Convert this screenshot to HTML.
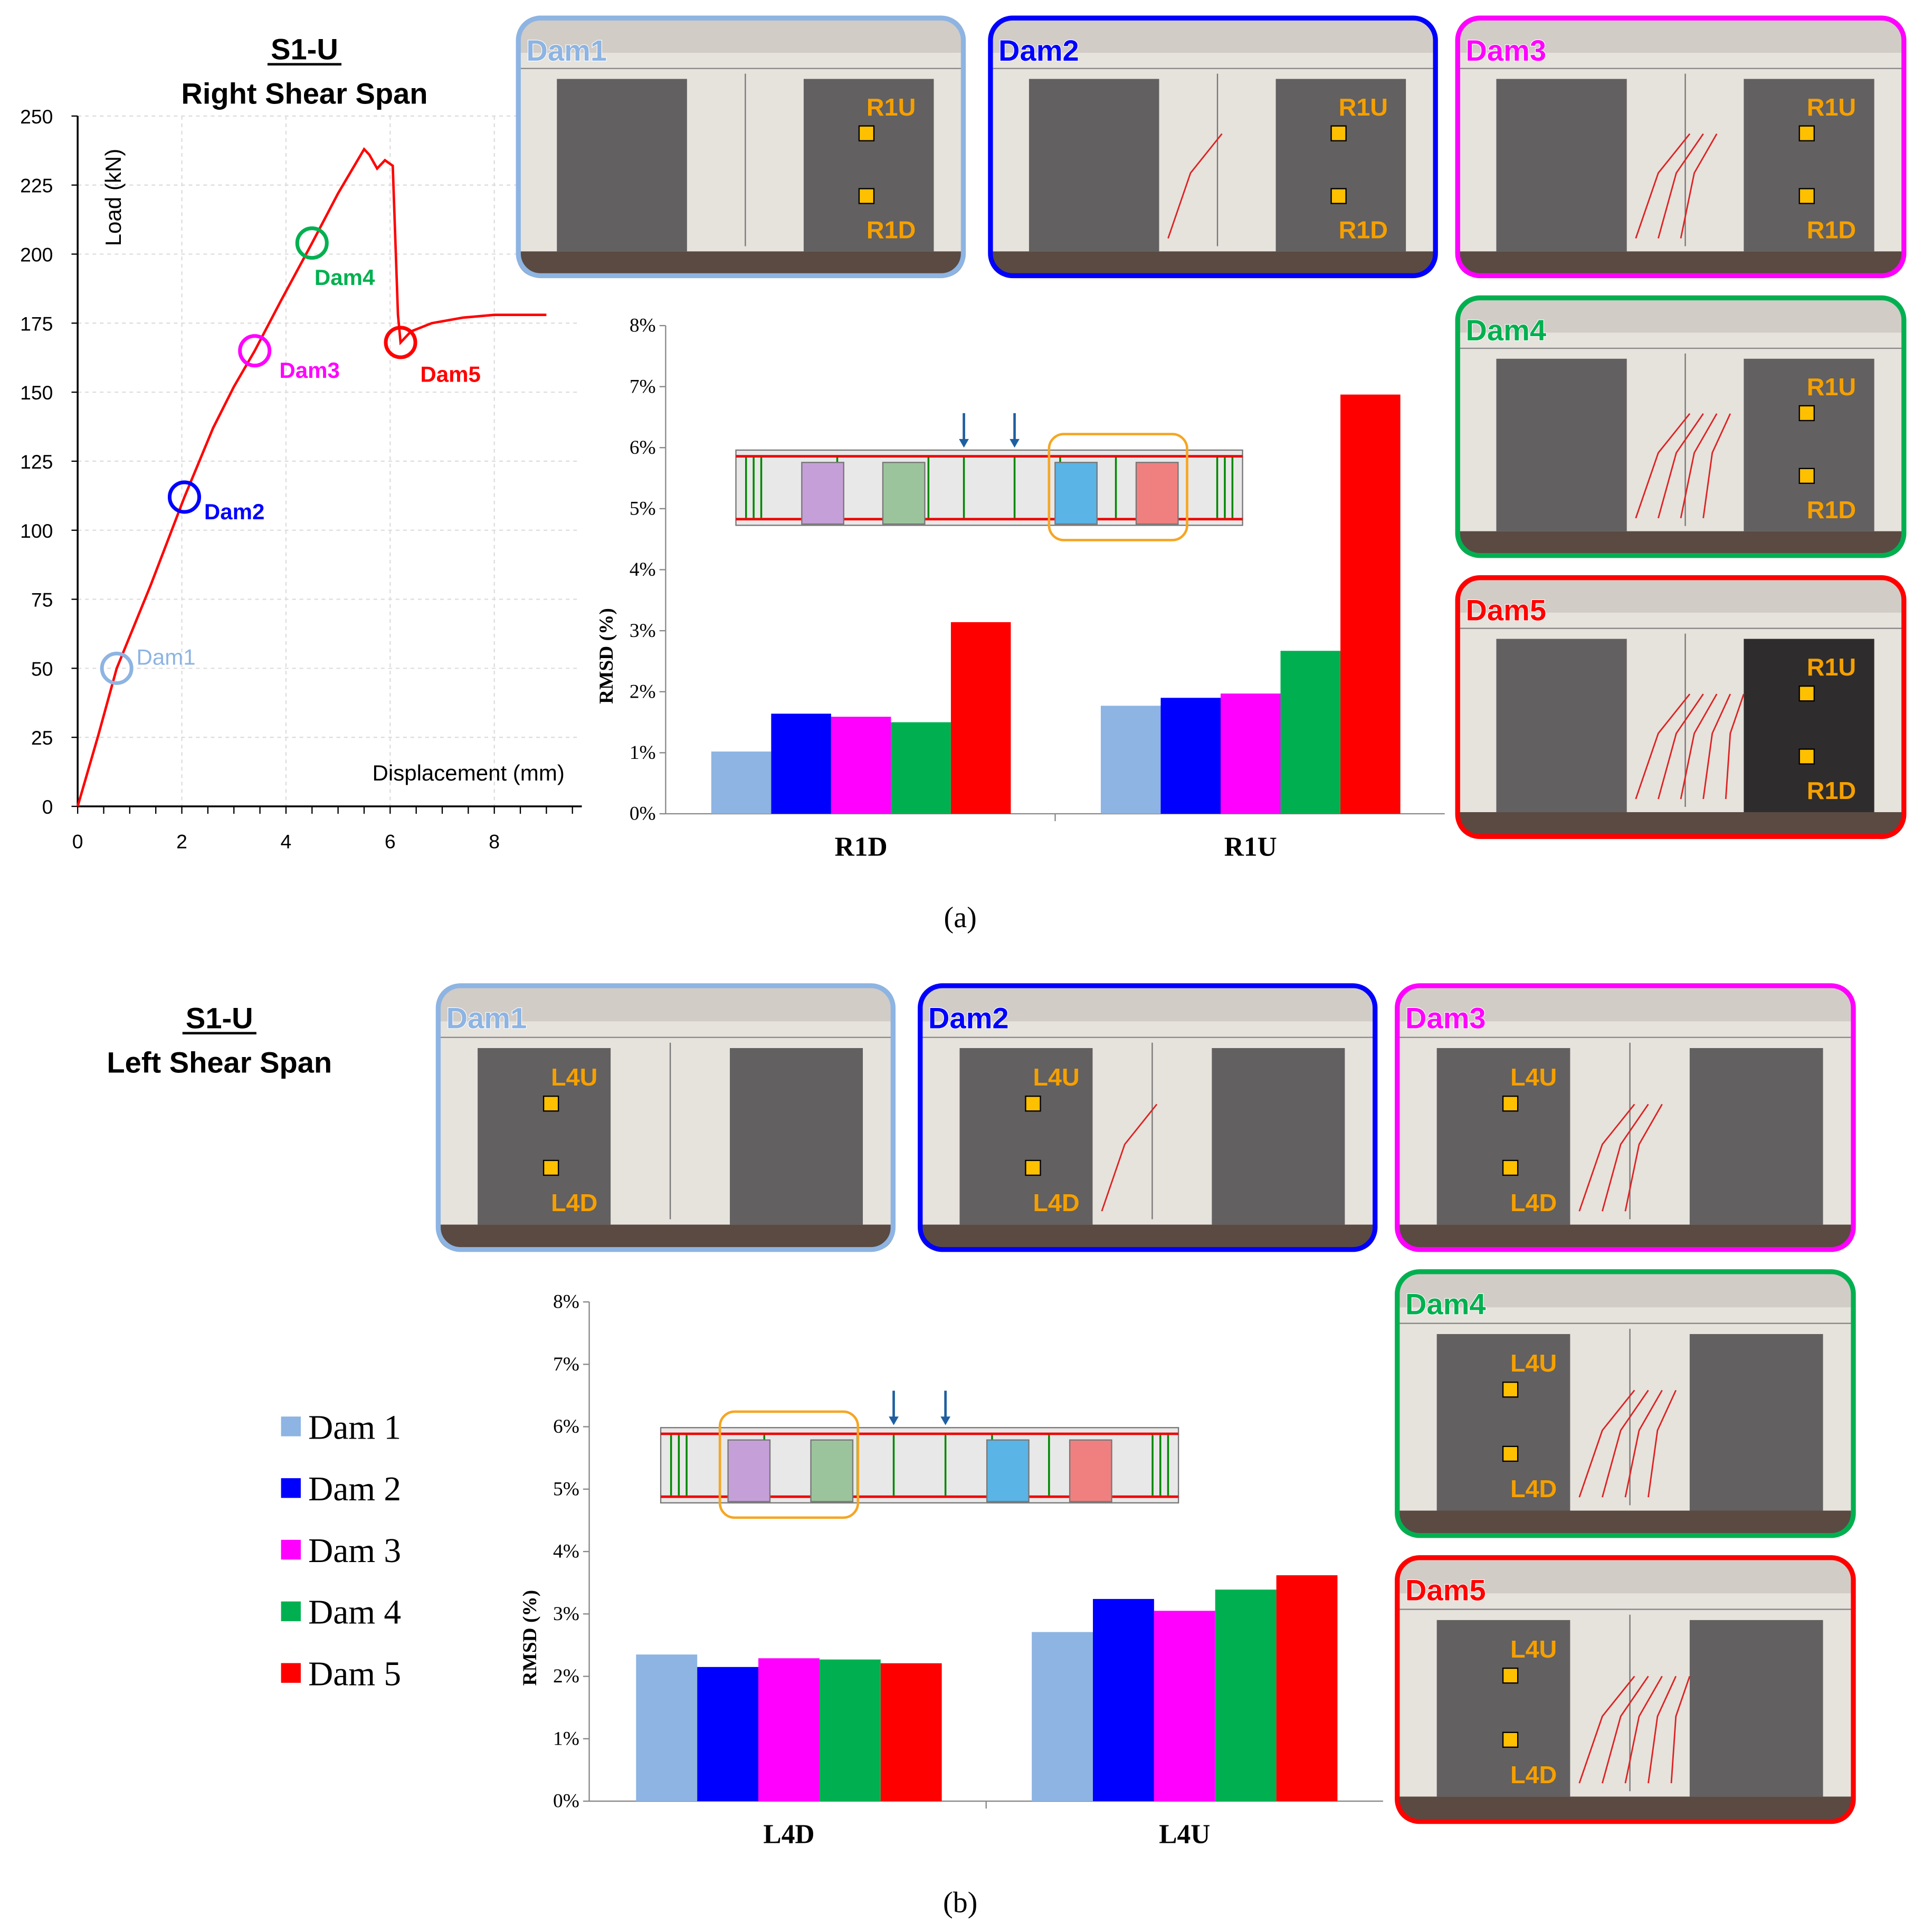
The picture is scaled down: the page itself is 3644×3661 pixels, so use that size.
<!DOCTYPE html>
<html><head><meta charset="utf-8"><style>html,body{margin:0;padding:0;background:#fff}svg{display:block}text{font-family:"Liberation Sans",sans-serif}.sf{font-family:"Liberation Serif",serif}</style></head>
<body>
<svg id="s" width="3644" height="3661" viewBox="0 0 1560 1567" xmlns="http://www.w3.org/2000/svg"></svg>
<script>
const damNames=["Dam1","Dam2","Dam3","Dam4","Dam5"];
const damColors=["#8db4e2","#0000ff","#ff00ff","#00b050","#ff0000"];
const legendLabels=["Dam 1","Dam 2","Dam 3","Dam 4","Dam 5"];
const curveX=[0,0.4,0.75,1.4,2.05,2.6,3.0,3.4,3.9,4.5,5.0,5.5,5.6,5.75,5.9,6.05,6.1,6.15,6.2,6.4,6.8,7.4,8.0,9.0];
const curveY=[0,26,50,80,112,137,152,165,183,204,222,238,236,231,234,232,205,178,168,172,175,177,178,178];
const markX=[0.75,2.05,3.4,4.5,6.2];
const markY=[50,112,165,204,168];
const xTicks=[0,2,4,6,8];
const yTicks=[0,25,50,75,100,125,150,175,200,225,250];
const pctTicks=[0,1,2,3,4,5,6,7,8];
const catsA=["R1D","R1U"];
const valsA=[[1.02,1.64,1.59,1.50,3.14],[1.77,1.90,1.97,2.67,6.87]];
const catsB=["L4D","L4U"];
const valsB=[[2.35,2.15,2.29,2.27,2.21],[2.71,3.24,3.05,3.39,3.62]];
const S=document.getElementById('s');const NS="http://www.w3.org/2000/svg";
function E(t,a,p){const e=document.createElementNS(NS,t);for(const k in a)e.setAttribute(k,a[k]);(p||S).appendChild(e);return e;}
function T(x,y,s,a,p){const e=E('text',Object.assign({x:x,y:y},a),p);e.textContent=s;return e;}
const g1=E('g',{});
const lx=v=>63+v*42.25, ly=v=>654-v*2.24;
for(const t of yTicks){if(t>0){E('line',{x1:63,x2:470,y1:ly(t),y2:ly(t),stroke:'#ddd','stroke-dasharray':'3,3'},g1);}
 E('line',{x1:58,x2:63,y1:ly(t),y2:ly(t),stroke:'#000'},g1);T(43,ly(t)+6,String(t),{'font-size':16,'text-anchor':'end'},g1);}
for(const t of xTicks){if(t>0)E('line',{x1:lx(t),x2:lx(t),y1:94,y2:654,stroke:'#ddd','stroke-dasharray':'3,3'},g1);
 T(lx(t),688,String(t),{'font-size':16,'text-anchor':'middle'},g1);}
for(let t=0;t<=9.6;t+=0.5)E('line',{x1:lx(t),x2:lx(t),y1:654,y2:660,stroke:'#000'},g1);
E('line',{x1:63,x2:63,y1:94,y2:654,stroke:'#000','stroke-width':1.5},g1);
E('line',{x1:63,x2:472,y1:654,y2:654,stroke:'#000','stroke-width':1.5},g1);
T(98,160,'Load (kN)',{'font-size':18,'text-anchor':'middle',transform:'rotate(-90 98 160)'},g1);
T(458,633,'Displacement (mm)',{'font-size':18,'text-anchor':'end'},g1);
const cp=E('polyline',{points:curveX.map((x,i)=>lx(x)+','+ly(curveY[i])).join(' '),fill:'none',stroke:'#ff0000','stroke-width':2},g1);

const offs=[[16,-3],[16,18],[20,22],[2,34],[16,32]];
markX.forEach((x,i)=>{const c=E('circle',{cx:lx(x),cy:ly(markY[i]),r:12,fill:'none',stroke:damColors[i],'stroke-width':3},g1);
 
 T(lx(x)+offs[i][0],ly(markY[i])+offs[i][1],damNames[i],{'font-size':18,'font-weight':i?'bold':'normal',fill:damColors[i]},g1);});
function titles(x,y,sub){T(x,y,'S1-U',{'font-size':24,'font-weight':'bold','text-anchor':'middle'});
 E('line',{x1:x-30,x2:x+30,y1:y+4,y2:y+4,stroke:'#000','stroke-width':2});
 T(x,y+36,sub,{'font-size':24,'font-weight':'bold','text-anchor':'middle'});}
titles(247,48,'Right Shear Span');titles(178,834,'Left Shear Span');
function bars(name,ax,y0,y8,xEnd,start,bw,gap,cats,vals){
 const g=E('g',{});
 const py=v=>y0-v*(y0-y8)/8;
 for(const t of pctTicks){E('line',{x1:ax-5,x2:ax,y1:py(t),y2:py(t),stroke:'#888'},g);T(ax-8,py(t)+5,t+'%',{'font-size':16,'text-anchor':'end',class:'sf'},g);}
 E('line',{x1:ax,x2:ax,y1:y8,y2:y0,stroke:'#888'},g);E('line',{x1:ax,x2:xEnd,y1:y0,y2:y0,stroke:'#888'},g);
 const mid=(ax+xEnd)/2;E('line',{x1:mid,x2:mid,y1:y0,y2:y0+6,stroke:'#888'},g);
 T(ax-43,(y0+y8)/2+70,'RMSD (%)',{'font-size':16,'font-weight':'bold',class:'sf','text-anchor':'middle',transform:`rotate(-90 ${ax-43} ${(y0+y8)/2+70})`},g);
 cats.forEach((c,ci)=>{const sx=start+ci*gap;
  vals[ci].forEach((v,i)=>{const r=E('rect',{x:sx+i*bw,y:py(v),width:bw,height:y0-py(v),fill:damColors[i]},g);
   });
  T(sx+2.5*bw,y0+34,c,{'font-size':22,'font-weight':'bold',class:'sf','text-anchor':'middle'},g);});}
bars('rmsd-chart-a',540,660,264,1172,577,48.6,316,catsA,valsA);
bars('rmsd-chart-b',478,1461,1056,1122,516,49.6,321,catsB,valsB);
legendLabels.forEach((l,i)=>{const y=1157+i*50;E('rect',{x:228,y:y-8,width:16,height:16,fill:damColors[i]});
 const t=T(250,y+10,l,{'font-size':28,class:'sf'});});
function beam(x,y,w,hx){const g=E('g',{});
 E('rect',{x:x,y:y,width:w,height:61,fill:'#e8e8e8',stroke:'#777'},g);
 E('line',{x1:x,x2:x+w,y1:y+5,y2:y+5,stroke:'#e00','stroke-width':2},g);E('line',{x1:x,x2:x+w,y1:y+56,y2:y+56,stroke:'#e00','stroke-width':2},g);
 [0.02,0.035,0.05,0.2,0.38,0.45,0.55,0.64,0.75,0.95,0.965,0.98].forEach(f=>E('line',{x1:x+f*w,x2:x+f*w,y1:y+6,y2:y+55,stroke:'#080','stroke-width':1.5},g));
 [[0.13,'#c5a0d8'],[0.29,'#9cc49c'],[0.63,'#5ab4e6'],[0.79,'#f08080']].forEach(b=>E('rect',{x:x+b[0]*w,y:y+10,width:34,height:50,fill:b[1],stroke:'#777'},g));
 [0.45,0.55].forEach(f=>{E('line',{x1:x+f*w,x2:x+f*w,y1:y-30,y2:y-6,stroke:'#1f5fa0','stroke-width':2},g);E('polygon',{points:`${x+f*w-4},${y-9} ${x+f*w+4},${y-9} ${x+f*w},${y-2}`,fill:'#1f5fa0'},g);});
 E('rect',{x:hx,y:y-13,width:112,height:86,rx:12,fill:'none',stroke:'#f5a623','stroke-width':2},g);}
beam(597,365,411,851);beam(536,1158,420,584);
function photo(x,y,w,h,i,lab,left,cracks){const g=E('g',{});
 const cid='c'+x+'_'+y;const cp=E('clipPath',{id:cid},g);E('rect',{x:x,y:y,width:w,height:h,rx:18},cp);
 const gg=E('g',{'clip-path':`url(#${cid})`},g);
 E('rect',{x:x,y:y,width:w,height:h,fill:'#e6e2dc'},gg);E('rect',{x:x,y:y,width:w,height:h*0.14,fill:'#d2ccc6'},gg);
 E('line',{x1:x,x2:x+w,y1:y+h*0.2,y2:y+h*0.2,stroke:'#888'},gg);
 E('rect',{x:x,y:y+h*0.9,width:w,height:h*0.1,fill:'#5a4a42'},gg);
 E('rect',{x:x+w*0.09,y:y+h*0.24,width:w*0.29,height:h*0.66,fill:'#626060'},gg);
 E('rect',{x:x+w*0.64,y:y+h*0.24,width:w*0.29,height:h*0.66,fill:i==4&&!left?'#2e2c2c':'#626060'},gg);
 E('line',{x1:x+w*0.51,x2:x+w*0.51,y1:y+h*0.22,y2:y+h*0.88,stroke:'#777'},gg);
 if(cracks)for(let k=0;k<cracks;k++)E('polyline',{points:`${x+w*(0.4+0.05*k)},${y+h*0.85} ${x+w*(0.45+0.04*k)},${y+h*0.6} ${x+w*(0.52+0.03*k)},${y+h*0.45}`,fill:'none',stroke:'#d22','stroke-width':1.2},gg);
 E('rect',{x:x+1.5,y:y+1.5,width:w-3,height:h-3,rx:18,fill:'none',stroke:damColors[i],'stroke-width':4},g);
 T(x+8,y+36,damNames[i],{'font-size':24,'font-weight':'bold',fill:damColors[i],stroke:'#fff','stroke-width':1,'paint-order':'stroke'},g);
 const sx=left?x+w*0.25:x+w*0.78;
 E('rect',{x:sx-6,y:y+h*0.42,width:12,height:12,fill:'#ffc000',stroke:'#000'},g);E('rect',{x:sx-6,y:y+h*0.66,width:12,height:12,fill:'#ffc000',stroke:'#000'},g);
 T(sx,y+h*0.38,lab+'U',{'font-size':20,'font-weight':'bold',fill:'#f5a000'},g);T(sx,y+h*0.85,lab+'D',{'font-size':20,'font-weight':'bold',fill:'#f5a000'},g);}
photo(419,13,364,212,0,'R1',false,0);photo(802,13,364,212,1,'R1',false,1);photo(1181,13,365,212,2,'R1',false,3);
photo(1181,240,365,212,3,'R1',false,4);photo(1181,467,365,213,4,'R1',false,5);
photo(354,798,372,217,0,'L4',true,0);photo(745,798,372,217,1,'L4',true,1);photo(1132,798,373,217,2,'L4',true,3);
photo(1132,1030,373,217,3,'L4',true,4);photo(1132,1262,373,217,4,'L4',true,5);
T(779,752,'(a)',{'font-size':24,class:'sf','text-anchor':'middle'});T(779,1551,'(b)',{'font-size':24,class:'sf','text-anchor':'middle'});
</script>
</body></html>
